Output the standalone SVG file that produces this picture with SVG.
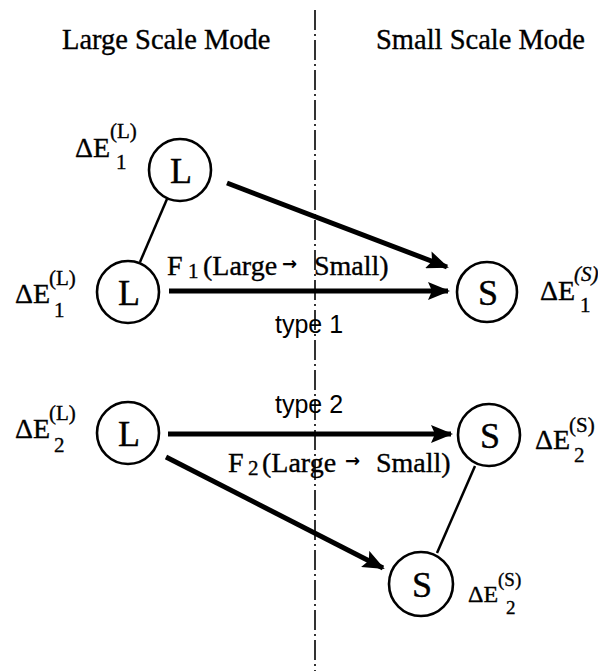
<svg xmlns="http://www.w3.org/2000/svg" width="598" height="671" viewBox="0 0 598 671">
<style>
  .serif { font-family: "Liberation Serif", "Times New Roman", serif; fill: #000; stroke: #000; stroke-width: 0.35; }
  .sans { font-family: "Liberation Sans", Arial, sans-serif; fill: #000; }
  .title { font-size: 28.5px; }
  .node circle { fill: #fff; stroke: #000; stroke-width: 2.6; }
  .node text { font-family: "Liberation Serif", "Times New Roman", serif; font-size: 36px; text-anchor: middle; stroke: #000; stroke-width: 0.4; }
  .de { font-size: 28px; }
  .sup { font-size: 21px; }
  .flab { font-size: 28px; }
  .fsub { font-size: 21px; }
  .arr { font-family: "DejaVu Sans", sans-serif; font-size: 18px; font-weight: bold; fill: #000; }
  .thick { stroke: #000; stroke-width: 5; fill: none; }
  .thin { stroke: #000; stroke-width: 2.5; fill: none; }
</style>
<defs>
  <marker id="ah" markerUnits="userSpaceOnUse" markerWidth="22" markerHeight="18" refX="20" refY="9" orient="auto">
    <path d="M0,0 L22,9 L0,18 L4,9 Z" fill="#000"/>
  </marker>
</defs>
<rect width="598" height="671" fill="#fff"/>

<!-- divider -->
<line x1="315" y1="10" x2="315" y2="671" stroke="#000" stroke-width="1.6" stroke-dasharray="20 4 2 4"/>

<!-- titles -->
<text class="serif title" x="62" y="49">Large Scale Mode</text>
<text class="serif title" x="376" y="49">Small Scale Mode</text>

<!-- connectors -->
<g id="connectors">
  <line class="thin" x1="167" y1="199" x2="140" y2="262"/>
  <line class="thick" x1="227" y1="183" x2="447" y2="267" marker-end="url(#ah)"/>
  <line class="thick" x1="169" y1="291" x2="448" y2="291" marker-end="url(#ah)"/>
  <line class="thick" x1="168" y1="434" x2="451" y2="434" marker-end="url(#ah)"/>
  <line class="thick" x1="166" y1="457" x2="383" y2="568" marker-end="url(#ah)"/>
  <line class="thin" x1="475" y1="466" x2="437" y2="553"/>
</g>

<!-- nodes -->
<g id="L1a" class="node">
  <circle cx="180" cy="170" r="31"/>
  <text x="181" y="183">L</text>
</g>
<g id="L1b" class="node">
  <circle cx="128" cy="292" r="31"/>
  <text x="129" y="305">L</text>
</g>
<g id="S1" class="node">
  <circle cx="487" cy="292" r="30"/>
  <text x="488" y="305">S</text>
</g>
<g id="L2" class="node">
  <circle cx="128" cy="433" r="31"/>
  <text x="129" y="446">L</text>
</g>
<g id="S2a" class="node">
  <circle cx="489" cy="435" r="31"/>
  <text x="490" y="448">S</text>
</g>
<g id="S2b" class="node">
  <circle cx="421" cy="584" r="32"/>
  <text x="422" y="597">S</text>
</g>

<!-- energy labels -->
<g id="label-dE1L-top">
  <text class="serif de" x="75" y="157">ΔE</text>
  <text class="serif sup" x="110" y="138">(L)</text>
  <text class="serif sup" x="116" y="169">1</text>
</g>
<g id="label-dE1L">
  <text class="serif de" x="15" y="303">ΔE</text>
  <text class="serif sup" x="49" y="285">(L)</text>
  <text class="serif sup" x="54" y="317">1</text>
</g>
<g id="label-dE1S">
  <text class="serif de" x="540" y="300">ΔE</text>
  <text class="serif sup" x="574" y="281" font-style="italic">(S)</text>
  <text class="serif sup" x="580" y="312">1</text>
</g>
<g id="label-dE2L">
  <text class="serif de" x="15" y="438">ΔE</text>
  <text class="serif sup" x="49" y="420">(L)</text>
  <text class="serif sup" x="54" y="452">2</text>
</g>
<g id="label-dE2S-a">
  <text class="serif de" x="535" y="449">ΔE</text>
  <text class="serif sup" x="569" y="432">(S)</text>
  <text class="serif sup" x="574" y="462">2</text>
</g>
<g id="label-dE2S-b">
  <text class="serif" font-size="24" x="468" y="602">ΔE</text>
  <text class="serif" font-size="19" x="498" y="586">(S)</text>
  <text class="serif" font-size="19" x="506" y="614">2</text>
</g>

<!-- F labels -->
<g id="F1label">
  <text class="serif flab" x="167" y="275">F</text>
  <text class="serif fsub" x="188" y="278">1</text>
  <text class="serif flab" x="203" y="275">(Large</text>
  <text class="arr" x="282" y="270">→</text>
  <text class="serif flab" x="314" y="275">Small)</text>
</g>
<g id="F2label">
  <text class="serif flab" x="228" y="472">F</text>
  <text class="serif fsub" x="248" y="475">2</text>
  <text class="serif flab" x="262" y="472">(Large</text>
  <text class="arr" x="345" y="467">→</text>
  <text class="serif flab" x="376" y="472">Small)</text>
</g>

<text class="sans" font-size="25" x="275" y="333">type 1</text>
<text class="sans" font-size="25" x="275" y="413">type 2</text>
</svg>
